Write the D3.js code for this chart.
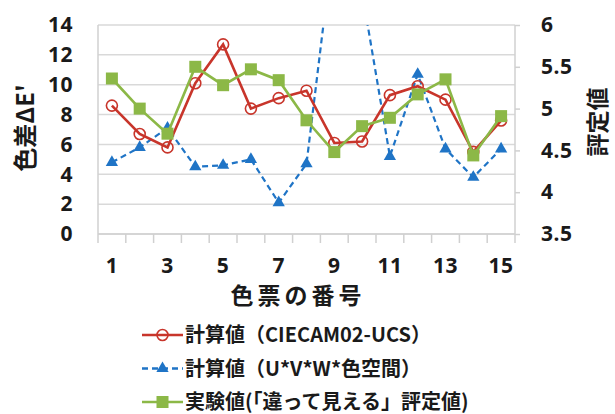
<!DOCTYPE html>
<html>
<head>
<meta charset="utf-8">
<script src="https://cdn.jsdelivr.net/npm/d3@7"></script>
<style>
  body { margin: 0; background: #fff; }
  text { font-family: "Noto Sans CJK JP", "Noto Sans", sans-serif; font-weight: bold; fill: #1a1a1a; }
</style>
</head>
<body>
<div id="chart"></div>
<script>
// 色票の番号
const categories = [1, 2, 3, 4, 5, 6, 7, 8, 9, 10, 11, 12, 13, 14, 15];
const tickLabels = ['1', '3', '5', '7', '9', '11', '13', '15'];
// 計算値 (CIECAM02-UCS), left axis
const ciecam = [8.6, 6.7, 5.8, 10.1, 12.7, 8.4, 9.1, 9.6, 6.1, 6.2, 9.3, 9.9, 9.0, 5.5, 7.6];
// 計算値 (U*V*W*), left axis — points 9, 10 go off the top
const uvw = [4.8, 5.8, 7.1, 4.5, 4.6, 5.0, 2.1, 4.7, 20, 16.2, 5.2, 10.7, 5.7, 3.8, 5.7];
// 実験値 評定値, right axis
const rating = [5.36, 5.0, 4.7, 5.5, 5.28, 5.47, 5.34, 4.86, 4.48, 4.79, 4.89, 5.17, 5.35, 4.44, 4.91];
const leftTicks = [0, 2, 4, 6, 8, 10, 12, 14];
const rightTicks = [3.5, 4, 4.5, 5, 5.5, 6];

const legendItems = [
  { name: '計算値（CIECAM02-UCS）', color: '#c8352b', marker: 'circle', dash: null },
  { name: '計算値（U*V*W*色空間）', color: '#1f74c6', marker: 'triangle', dash: '6,4' },
  { name: '実験値(「違って見える」評定値)', color: '#8cb847', marker: 'square', dash: null }
];

const width = 615, height = 414;
const plot = { left: 98, right: 515, top: 25, bottom: 234 };
const numFont = '"Noto Sans", sans-serif';

const svg = d3.select('#chart').append('svg')
  .attr('width', width).attr('height', height);

const x = d3.scaleBand().domain(categories).range([plot.left, plot.right]);
const yL = d3.scaleLinear().domain([0, 14]).range([plot.bottom, plot.top]);
const yR = d3.scaleLinear().domain([3.5, 6]).range([plot.bottom, plot.top]);

// gridlines
svg.append('g')
  .selectAll('line')
  .data(leftTicks)
  .enter().append('line')
  .attr('x1', plot.left).attr('x2', plot.right)
  .attr('y1', d => yL(d)).attr('y2', d => yL(d))
  .attr('stroke', '#d9d9d9').attr('stroke-width', 1.5);

// left axis
const axL = svg.append('g')
  .attr('transform', `translate(${plot.left},0)`)
  .call(d3.axisLeft(yL).tickValues(leftTicks).tickSize(0).tickPadding(25));
axL.select('.domain').attr('stroke', '#d0d0d0').attr('stroke-width', 1.5)
  .attr('d', `M0,${plot.top}V${plot.bottom + 9}`);
axL.selectAll('text').style('font-size', '21px').style('font-family', numFont)
  .style('letter-spacing', '0.5px');

// right axis
const axR = svg.append('g')
  .attr('transform', `translate(${plot.right},0)`)
  .call(d3.axisRight(yR).tickValues(rightTicks).tickSize(5).tickPadding(21)
    .tickFormat(d => d3.format('~g')(d)));
axR.select('.domain').attr('stroke', '#d0d0d0').attr('stroke-width', 1.5)
  .attr('d', `M0,${plot.top}V${plot.bottom + 9}`);
axR.selectAll('.tick line').attr('stroke', '#d0d0d0').attr('stroke-width', 1.5);
axR.selectAll('text').style('font-size', '21px').style('font-family', numFont)
  .style('letter-spacing', '0.5px');

// bottom axis: ticks between categories, labels every other
const axB = svg.append('g')
  .attr('transform', `translate(0,${plot.bottom})`);
axB.append('line')
  .attr('x1', plot.left).attr('x2', plot.right)
  .attr('stroke', '#d0d0d0').attr('stroke-width', 1.5);
axB.selectAll('.tk')
  .data(categories.slice(1))
  .enter().append('line')
  .attr('x1', d => x(d)).attr('x2', d => x(d))
  .attr('y1', 0).attr('y2', 9)
  .attr('stroke', '#d0d0d0').attr('stroke-width', 1.5);
axB.selectAll('.lbl')
  .data(categories.filter(d => tickLabels.includes(String(d))))
  .enter().append('text')
  .attr('x', d => x(d) + x.bandwidth() / 2)
  .attr('y', 39)
  .attr('text-anchor', 'middle')
  .style('font-size', '21px')
  .style('font-family', numFont)
  .style('letter-spacing', '0.5px')
  .text(d => d);

// axis titles
svg.append('text')
  .attr('transform', `translate(34,128) rotate(-90)`)
  .attr('text-anchor', 'middle')
  .style('font-size', '24px')
  .text("色差ΔE'");
svg.append('text')
  .attr('transform', `translate(606,122) rotate(-90)`)
  .attr('text-anchor', 'middle')
  .style('font-size', '23px')
  .text('評定値');
svg.append('text')
  .attr('x', 298)
  .attr('y', 304)
  .attr('text-anchor', 'middle')
  .style('font-size', '23px')
  .style('letter-spacing', '4px')
  .text('色票の番号');

// clip to plot area
svg.append('defs').append('clipPath').attr('id', 'clip')
  .append('rect')
  .attr('x', plot.left).attr('y', plot.top)
  .attr('width', plot.right - plot.left).attr('height', plot.bottom - plot.top);

const cx = d => x(d) + x.bandwidth() / 2;

function drawMarker(g, type, color, px, py) {
  if (type === 'circle') {
    g.append('circle').attr('cx', px).attr('cy', py).attr('r', 5.5)
      .attr('fill', 'none').attr('stroke', color).attr('stroke-width', 1.6);
  } else if (type === 'triangle') {
    g.append('path').attr('d', d3.symbol().type(d3.symbolTriangle).size(65)())
      .attr('transform', `translate(${px},${py})`)
      .attr('fill', color);
  } else {
    g.append('rect').attr('x', px - 6).attr('y', py - 6)
      .attr('width', 12).attr('height', 12).attr('fill', color);
  }
}

const seriesList = [
  { values: uvw, y: yL, item: legendItems[1], width: 2.2 },
  { values: ciecam, y: yL, item: legendItems[0], width: 2.6 },
  { values: rating, y: yR, item: legendItems[2], width: 2.6 }
];

seriesList.forEach(s => {
  const g = svg.append('g').attr('clip-path', 'url(#clip)');
  const line = d3.line()
    .x((d, i) => cx(categories[i]))
    .y(d => s.y(d));
  g.append('path')
    .datum(s.values)
    .attr('d', line)
    .attr('fill', 'none')
    .attr('stroke', s.item.color)
    .attr('stroke-width', s.width)
    .attr('stroke-dasharray', s.item.dash);
  s.values.forEach((v, i) => {
    drawMarker(g, s.item.marker, s.item.color, cx(categories[i]), s.y(v));
  });
});

// legend
const legend = svg.append('g');
legendItems.forEach((item, i) => {
  const ly = 335 + i * 33.5;
  const row = legend.append('g');
  row.append('line')
    .attr('x1', 142).attr('x2', 183)
    .attr('y1', ly).attr('y2', ly)
    .attr('stroke', item.color).attr('stroke-width', 2.6)
    .attr('stroke-dasharray', item.dash);
  drawMarker(row, item.marker, item.color, 162.5, ly);
  row.append('text')
    .attr('x', 185).attr('y', ly + 7)
    .style('font-size', '20px')
    .text(item.name);
});
</script>
</body>
</html>
